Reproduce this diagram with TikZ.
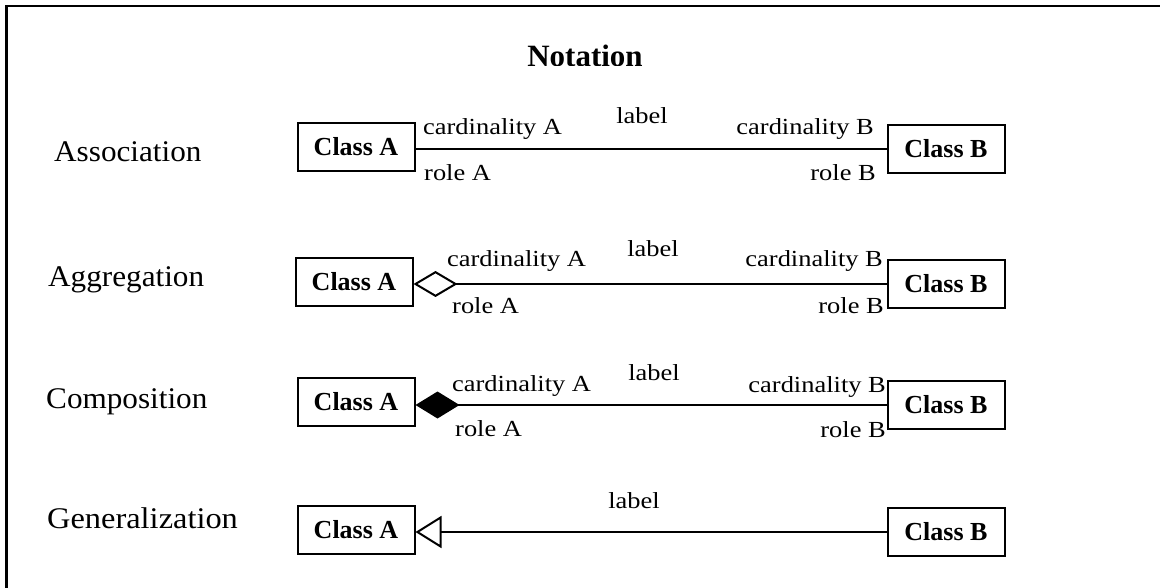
\documentclass[tikz,border=0pt]{standalone}
\usepackage{fontspec}
\setmainfont{Liberation Serif}
\usetikzlibrary{arrows.meta}

% horizontally widened text
\newcommand{\widetxt}[2]{\scalebox{#1}[1]{#2}}

\begin{document}
\begin{tikzpicture}[x=1pt,y=-1pt,
  cls/.style={draw, line width=2pt, minimum width=117pt, minimum height=48pt,
    inner sep=0pt, font=\fontsize{26}{30}\selectfont\bfseries},
  rowlbl/.style={anchor=base west, inner sep=0pt, font=\fontsize{30}{34}\selectfont},
  small/.style={inner sep=0pt, font=\fontsize{23}{27}\selectfont},
  conn/.style={line width=2pt},
  frame/.style={line width=2.5pt}]
\useasboundingbox (0,0) rectangle (1160,588);

% outer frame (open on the right and bottom)
\draw[frame] (6.5,588) -- (6.5,6) -- (1160,6);

% title, cut flat at its baseline
\begin{scope}
  \clip (0,0) rectangle (1160,65.5);
  \node[anchor=base, inner sep=0pt, font=\fontsize{31}{35}\selectfont\bfseries]
    (title) at (585,66.5) {Notation};
\end{scope}

% row captions
\node[rowlbl] (lassoc) at (54,162) {\widetxt{1.04}{Association}};
\node[rowlbl] (laggr)  at (48,287) {\widetxt{1.04}{Aggregation}};
\node[rowlbl] (lcomp)  at (46,408) {\widetxt{1.04}{Composition}};
\node[rowlbl] (lgen)   at (47,528) {\widetxt{1.08}{Generalization}};

% ---- Association ----
\node[cls] (a1) at (356,147) {Class A};
\node[cls] (b1) at (946,149) {Class B};
\draw[conn] (a1.east |- b1.west) -- (b1.west);
\node[small, anchor=base west] (ca1) at (423,135) {\widetxt{1.15}{cardinality A}};
\node[small, anchor=base west] (ra1) at (424,181) {\widetxt{1.15}{role A}};
\node[small, anchor=base]      (lb1) at (642,124) {\widetxt{1.15}{label}};
\node[small, anchor=base east] (cb1) at (874,135) {\widetxt{1.15}{cardinality B}};
\node[small, anchor=base east] (rb1) at (876,181) {\widetxt{1.15}{role B}};

% ---- Aggregation ----
\node[cls] (a2) at (354,282) {Class A};
\node[cls] (b2) at (946,284) {Class B};
\draw[conn, {Diamond[open, length=44pt, width=26pt]}-] (a2.east |- b2.west) -- (b2.west);
\node[small, anchor=base west] (ca2) at (447,267) {\widetxt{1.15}{cardinality A}};
\node[small, anchor=base west] (ra2) at (452,313) {\widetxt{1.15}{role A}};
\node[small, anchor=base]      (lb2) at (653,257) {\widetxt{1.15}{label}};
\node[small, anchor=base east] (cb2) at (883,267) {\widetxt{1.15}{cardinality B}};
\node[small, anchor=base east] (rb2) at (884,313) {\widetxt{1.15}{role B}};

% ---- Composition ----
\node[cls] (a3) at (356,402) {Class A};
\node[cls] (b3) at (946,405) {Class B};
\draw[conn, {Diamond[length=44pt, width=27pt]}-] (a3.east |- b3.west) -- (b3.west);
\node[small, anchor=base west] (ca3) at (452,391) {\widetxt{1.15}{cardinality A}};
\node[small, anchor=base west] (ra3) at (455,436) {\widetxt{1.15}{role A}};
\node[small, anchor=base]      (lb3) at (654,380) {\widetxt{1.15}{label}};
\node[small, anchor=base east] (cb3) at (886,392) {\widetxt{1.15}{cardinality B}};
\node[small, anchor=base east] (rb3) at (886,437) {\widetxt{1.15}{role B}};

% ---- Generalization ----
\node[cls] (a4) at (356,530) {Class A};
\node[cls] (b4) at (946,532) {Class B};
\draw[conn, {Triangle[open, length=26pt, width=32pt]}-] (a4.east |- b4.west) -- (b4.west);
\node[small, anchor=base]      (lb4) at (634,508) {\widetxt{1.15}{label}};
\end{tikzpicture}
\end{document}
